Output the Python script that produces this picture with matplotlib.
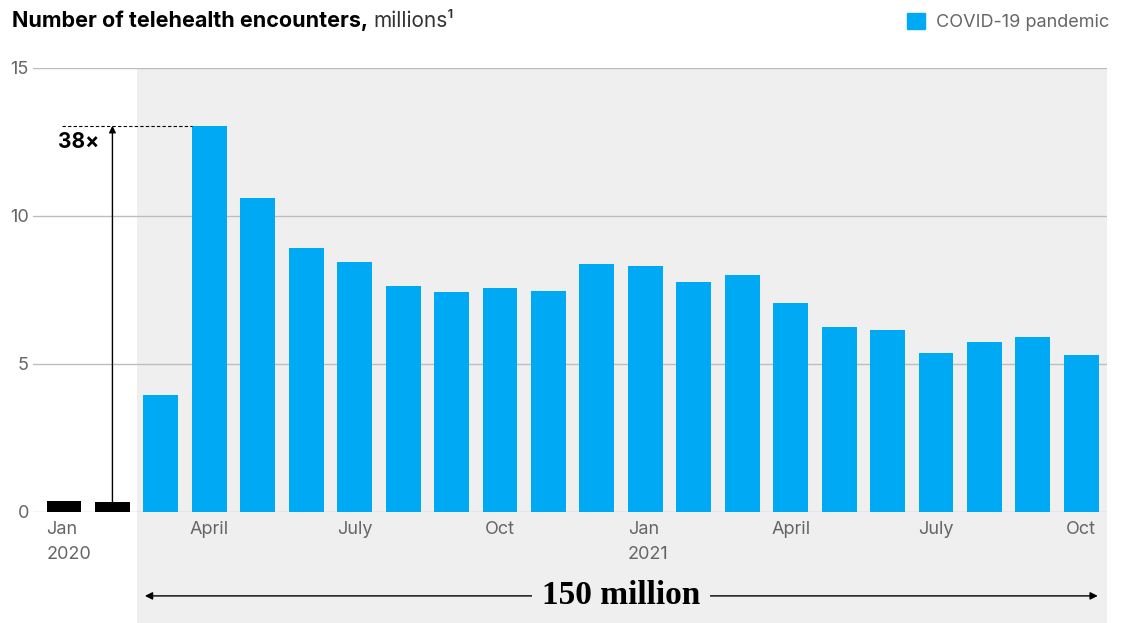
import matplotlib
matplotlib.use("Agg")
import matplotlib.pyplot as plt
from matplotlib.patches import Patch

# monthly telehealth encounters, millions (Jan 2020 - Oct 2021)
months = ["Jan 2020", "Feb 2020", "Mar 2020", "Apr 2020", "May 2020", "Jun 2020",
          "Jul 2020", "Aug 2020", "Sep 2020", "Oct 2020", "Nov 2020", "Dec 2020",
          "Jan 2021", "Feb 2021", "Mar 2021", "Apr 2021", "May 2021", "Jun 2021",
          "Jul 2021", "Aug 2021", "Sep 2021", "Oct 2021"]
pre_covid = [0.38, 0.34]
covid = [3.95, 13.05, 10.6, 8.92, 8.45, 7.64, 7.43, 7.57, 7.47, 8.38,
         8.31, 7.77, 8.0, 7.06, 6.25, 6.15, 5.37, 5.74, 5.91, 5.3]
tick_pos = [0, 3, 6, 9, 12, 15, 18, 21]
tick_labels = ["Jan\n2020", "April", "July", "Oct", "Jan\n2021", "April", "July", "Oct"]
yticks = [0, 5, 10, 15]

plt.rcParams['font.family'] = ['Inter', 'DejaVu Sans']

blue = "#00a9f4"
grey_bg = "#efefef"
grid_c = "#bdbdbd"
txt_grey = "#666666"

fig = plt.figure(figsize=(11.22, 6.23), dpi=100)
ax = fig.add_axes([0.0294, 0.1782, 0.9572, 0.7127])

n_pre = len(pre_covid)
x_pre = list(range(n_pre))
x_cov = list(range(n_pre, n_pre + len(covid)))
width = 0.72

ax.set_xlim(-0.64, 21.53)
ax.set_ylim(0, 15)

# shaded pandemic period, running down under the axis
ax.axvspan(n_pre - 0.5, 21.53, ymin=-0.26, ymax=1, color=grey_bg, zorder=0,
           clip_on=False, lw=0)

ax.bar(x_pre, pre_covid, width=width, color="black", zorder=3)
ax.bar(x_cov, covid, width=width, color=blue, zorder=3)

ax.set_yticks(yticks)
ax.yaxis.grid(True, color=grid_c, lw=1, zorder=1)
ax.set_axisbelow(True)
for s in ax.spines.values():
    s.set_visible(False)
ax.tick_params(axis='y', length=0, pad=3, labelsize=13, labelcolor=txt_grey)
ax.set_xticks([])

# month labels, Jan ones aligned to the bar's left edge
for p, lab in zip(tick_pos, tick_labels):
    if lab.startswith("Jan"):
        ax.text(p - width / 2, -0.02, lab, transform=ax.get_xaxis_transform(),
                ha='left', va='top', fontsize=13, color=txt_grey, linespacing=1.6)
    else:
        ax.text(p, -0.02, lab, transform=ax.get_xaxis_transform(),
                ha='center', va='top', fontsize=13, color=txt_grey)

# 38x arrow from Feb to April peak
peak = max(covid)
ax.annotate("", xy=(1, peak), xytext=(1, pre_covid[1]),
            arrowprops=dict(arrowstyle='-|>', color='black', lw=1, mutation_scale=10,
                            shrinkA=0, shrinkB=0), zorder=4)
ax.plot([-0.05, 3 - width / 2], [peak, peak], color='black', lw=0.8,
        dashes=(3, 2), zorder=4)
ax.text(0.31, 12.5, "38×", ha='center', va='center', fontsize=15,
        fontweight='bold', zorder=4)

# 150 million span arrow
ax.annotate("", xy=(21.34, -0.189), xytext=(1.67, -0.189),
            xycoords=ax.get_xaxis_transform(), textcoords=ax.get_xaxis_transform(),
            arrowprops=dict(arrowstyle='<|-|>', color='black', lw=1, mutation_scale=11,
                            shrinkA=0, shrinkB=0), annotation_clip=False)
ax.text(11.5, -0.189, "150 million", transform=ax.get_xaxis_transform(),
        ha='center', va='center', fontsize=24, fontweight='bold',
        family=['Liberation Serif', 'DejaVu Serif'],
        bbox=dict(facecolor=grey_bg, edgecolor='none', pad=7))

# title
t1 = fig.text(0.0107, 0.9567, "Number of telehealth encounters,", fontsize=15.5,
              fontweight='bold', va='baseline', ha='left')
r = fig.canvas.get_renderer()
bb = t1.get_window_extent(renderer=r)
fig.text((bb.x1 + 5) / fig.bbox.width, 0.9567, "millions¹", fontsize=15,
         va='baseline', ha='left', color="#333333")

fig.legend(handles=[Patch(color=blue, label="COVID-19 pandemic")], loc='upper right',
           bbox_to_anchor=(1.0, 1.0), frameon=False, fontsize=13,
           handlelength=1.0, handleheight=1.0, handletextpad=0.6,
           labelcolor=txt_grey, borderaxespad=0.3)

fig.savefig("out.png", dpi=100)
